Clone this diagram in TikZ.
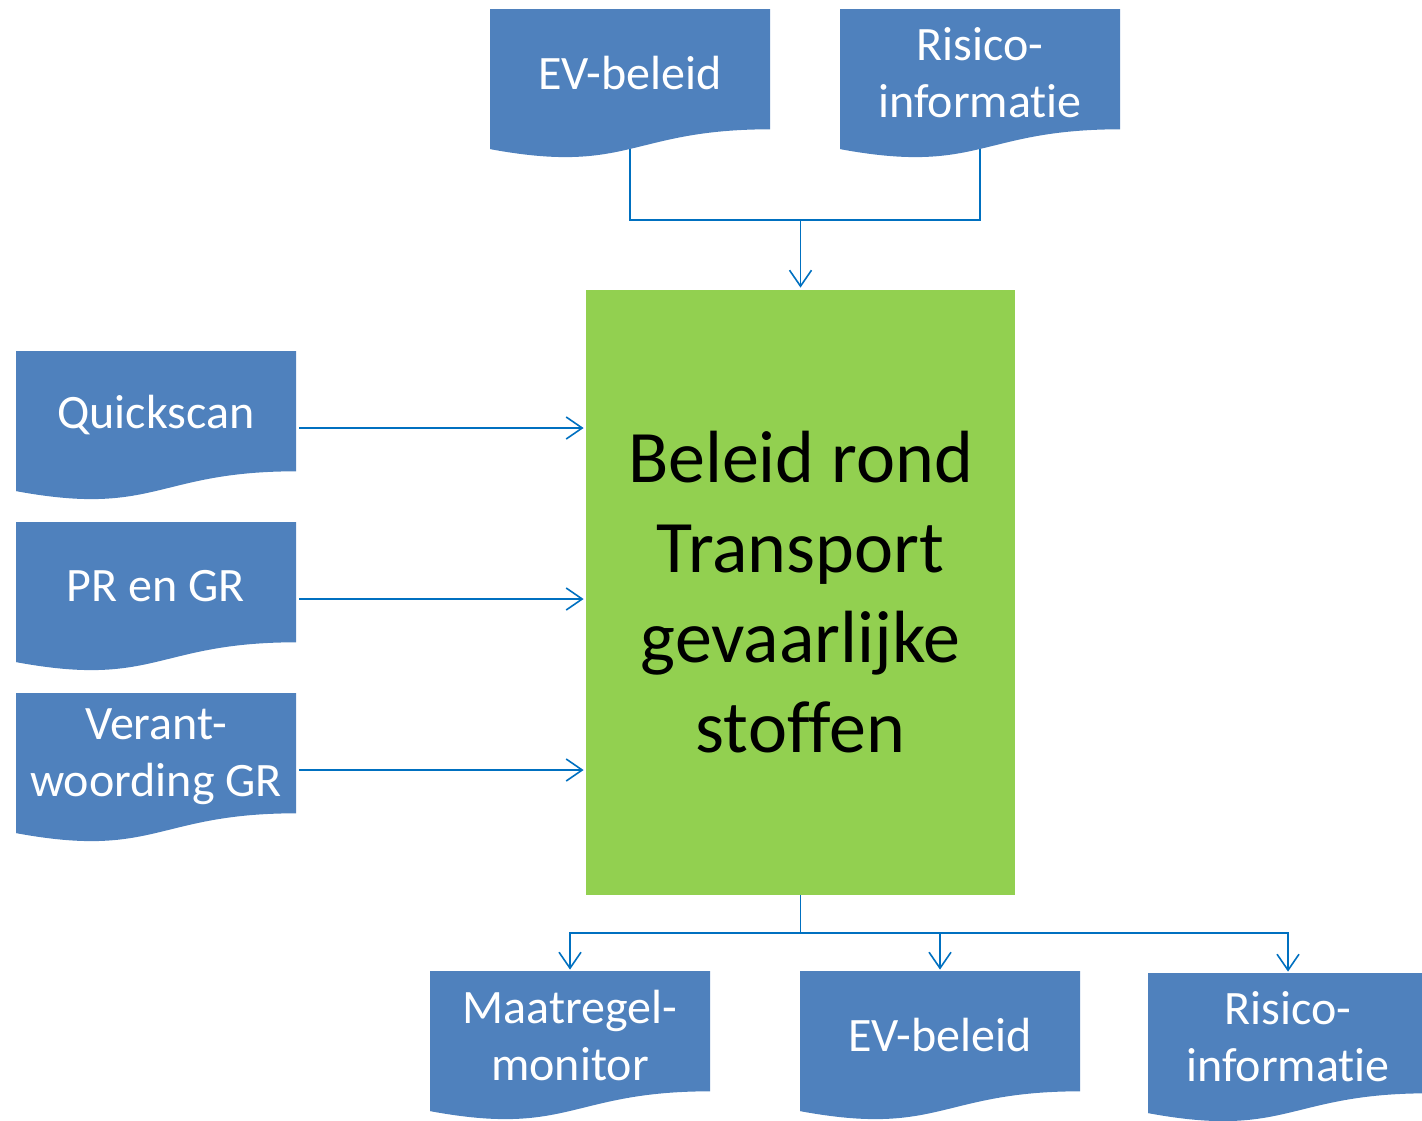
\documentclass[tikz,border=0pt]{standalone}
\usepackage{fontspec}
\setmainfont{Carlito}[Ligatures=NoCommon]
\usetikzlibrary{arrows.meta,calc}
\definecolor{docblue}{RGB}{79,129,189}
\definecolor{maingreen}{RGB}{146,208,80}
\definecolor{linkblue}{RGB}{0,112,192}
\tikzset{
  docfill/.style={fill=docblue},
  doctext/.style={inner sep=0pt, minimum width=140pt, minimum height=60pt, align=center,
    text=white, font=\fontsize{24}{28.5}\selectfont},
  mainbox/.style={fill=maingreen, inner sep=0pt, minimum width=214.5pt, minimum height=302.5pt,
    align=center, text=black, font=\fontsize{37}{45}\selectfont},
  conn/.style={draw=linkblue, line width=0.8pt},
  arr/.style={conn, -{Straight Barb[length=8pt,width=11pt,line width=0.8pt]}, shorten >=1pt},
  arrdown/.style={arr, shorten >=2.5pt},
}
\newcommand\docshape[4]{%
  \begin{scope}[shift={(#2,#3)}]
    \fill[docfill] (0,0) -- (280,0) -- (280,120.3)
      .. controls (140,120.3) and (140,166.1) .. (0,140.1) -- cycle;
    \node[doctext] (#1) at (140,64) {#4};
    \coordinate (#1-foot) at (140,140);
  \end{scope}}
\begin{document}
\begin{tikzpicture}[x=0.5pt,y=-0.5pt]
\clip (0,0) rectangle (1422,1120);
% documents
\docshape{evtop}{490}{9}{EV-beleid}
\docshape{ristop}{840}{9}{Risico-\\informatie}
\docshape{qs}{16}{351}{Quickscan}
\docshape{prgr}{16}{522}{PR en GR}
\docshape{verant}{16}{693}{Verant-\\woording GR}
\docshape{mm}{430}{971}{Maatregel-\\monitor}
\docshape{evbot}{800}{971}{EV-beleid}
\docshape{risbot}{1148}{973}{Risico-\\informatie}
% main box
\node[mainbox] (main) at (800.5,592.5) {Beleid rond\\Transport\\gevaarlijke\\stoffen};
% top connectors
\coordinate (jtop) at (main.north |- 0,220);
\draw[conn] (evtop-foot) |- (jtop) -| (ristop-foot);
\draw[arr] (jtop) -- (main.north);
% left arrows
\draw[arr] ($(qs.east)+(3,13)$) coordinate (a1) -- (a1 -| main.west);
\draw[arr] ($(prgr.east)+(3,13)$) coordinate (a2) -- (a2 -| main.west);
\draw[arr] ($(verant.east)+(3,13)$) coordinate (a3) -- (a3 -| main.west);
% bottom connectors
\coordinate (jbot) at (main.south |- 0,933);
\draw[conn] (main.south) -- (jbot);
\draw[arrdown] (jbot) -| (mm.north);
\draw[arrdown] (jbot) -| (evbot.north);
\draw[arrdown] (jbot) -| (risbot.north);
\end{tikzpicture}
\end{document}
